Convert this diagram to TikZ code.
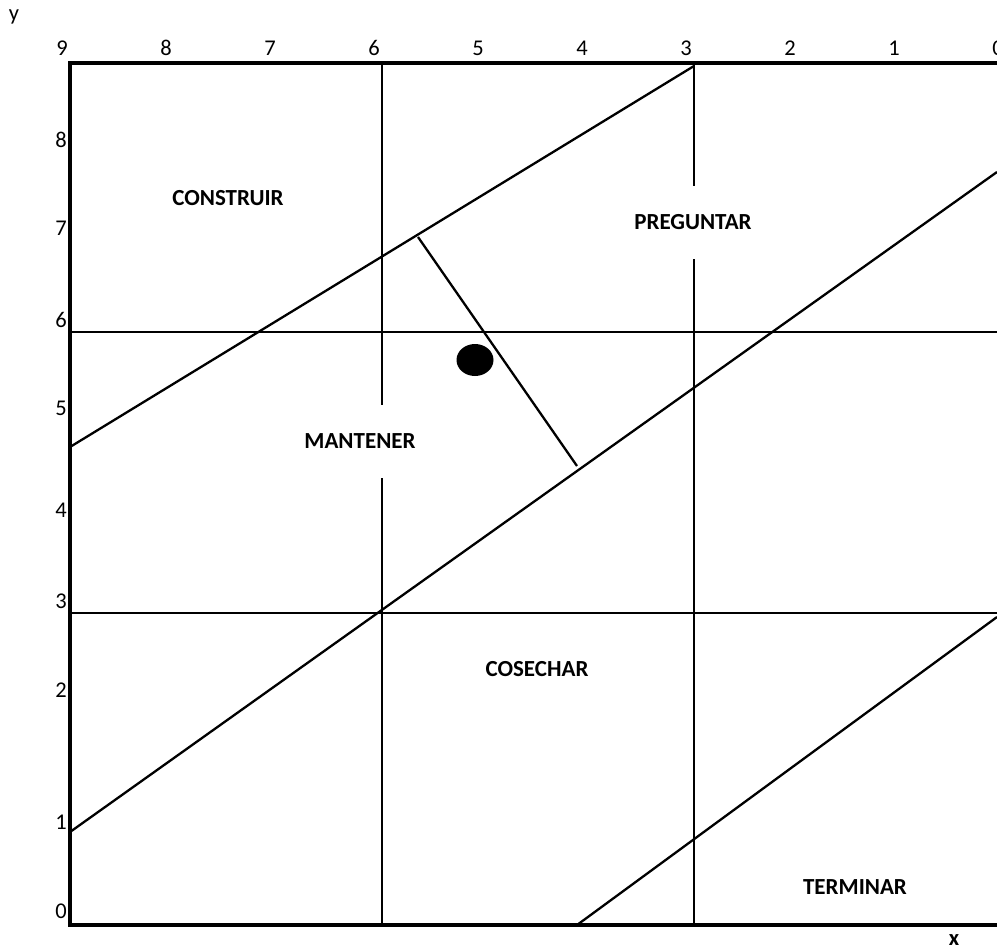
\documentclass[tikz,border=0pt]{standalone}
\usepackage{fontspec}
\setmainfont{Carlito}
\begin{document}
\begin{tikzpicture}[x=1pt,y=-1pt,
  num/.style={font=\fontsize{22.5}{22.5}\selectfont, inner sep=0pt},
  region/.style={font=\fontsize{23}{23}\selectfont\bfseries, inner sep=0pt},
  gapbox/.style={region, fill=white, inner xsep=3pt, minimum height=73pt},
  frame/.style={line width=4pt},
  thin/.style={line width=2.3pt}]
\useasboundingbox (0,0) rectangle (997,951);
% coordinates
\coordinate (TL) at (70,63);
\coordinate (TR) at (1000,63);
\coordinate (BL) at (70,925);
\coordinate (BR) at (1000,925);
\coordinate (h6l) at (70,332);
\coordinate (h6r) at (1000,332);
\coordinate (h3l) at (70,613);
\coordinate (h3r) at (1000,613);
\coordinate (v6t) at (382,63);
\coordinate (v6b) at (382,925);
\coordinate (v3t) at (694,63);
\coordinate (v3b) at (694,925);
\coordinate (d1a) at (70,447);
\coordinate (d1b) at (694,66);
\coordinate (d2a) at (70,832);
\coordinate (d2b) at (997,172);
\coordinate (d3a) at (577,925);
\coordinate (d3b) at (997,617);
\coordinate (pa) at (418,237);
\coordinate (pb) at (577,466);
% grid lines
\draw[thin] (h6l) -- (h6r);
\draw[thin] (h3l) -- (h3r);
\draw[thin] (v6t) -- (v6b);
\draw[thin] (v3t) -- (v3b);
% diagonals
\draw[thin] (d1a) -- (d1b);
\draw[thin] (d2a) -- (d2b);
\draw[thin] (d3a) -- (d3b);
\draw[thin] (pa) -- (pb);
% frame
\draw[frame] (TR) -- (TL) -- (BL) -- (BR);
% dot
\fill (475,360) ellipse [x radius=18.5, y radius=16];
% region labels
\node[region] (construir) at (228,198) {CONSTRUIR};
\node[gapbox] (preguntar) at (693,222) {PREGUNTAR};
\node[gapbox] (mantener) at (360,441) {MANTENER};
\node[region] (cosechar) at (537,669) {COSECHAR};
\node[region] (terminar) at (855,887) {TERMINAR};
% axis names
\node[num] (ylab) at (14,17) {y};
\node[num, font=\fontsize{22.5}{22.5}\selectfont\bfseries] (xlab) at (954,940) {x};
% top numbers
\foreach \i in {0,...,9} {
  \node[num] (t\i) at ({998-104*\i},48) {\i};
}
% left numbers
\node[num] (l8) at (61,140) {8};
\node[num] (l7) at (61,228) {7};
\node[num] (l6) at (61,320) {6};
\node[num] (l5) at (61,408) {5};
\node[num] (l4) at (61,510) {4};
\node[num] (l3) at (61,601) {3};
\node[num] (l2) at (61,690) {2};
\node[num] (l1) at (61,822) {1};
\node[num] (l0) at (61,911) {0};
\end{tikzpicture}
\end{document}
